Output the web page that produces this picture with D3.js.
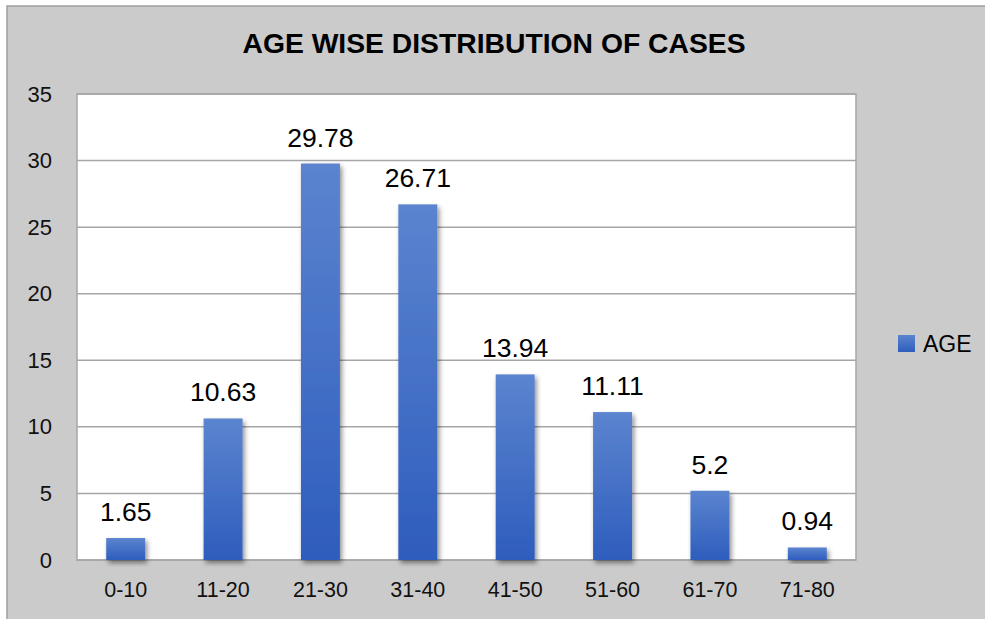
<!DOCTYPE html>
<html><head><meta charset="utf-8">
<script src="https://cdn.jsdelivr.net/npm/d3@7"></script>
<style>body{margin:0;background:#fff}svg{display:block}</style>
</head><body>
<script>
const categories = ["0-10","11-20","21-30","31-40","41-50","51-60","61-70","71-80"];
const values = [1.65,10.63,29.78,26.71,13.94,11.11,5.2,0.94];
const labels = ["1.65","10.63","29.78","26.71","13.94","11.11","5.2","0.94"];
const yTicks = [0,5,10,15,20,25,30,35];
const seriesName = "AGE";
const title = "AGE WISE DISTRIBUTION OF CASES";

const W=985,H=619;
const svg=d3.select("body").append("svg").attr("width",W).attr("height",H);
const defs=svg.append("defs");
const g=defs.append("linearGradient").attr("id","bg").attr("x1",0).attr("y1",0).attr("x2",0).attr("y2",1);
g.append("stop").attr("offset","0%").attr("stop-color","#5b84cf");
g.append("stop").attr("offset","100%").attr("stop-color","#2e5dbd");
const f=defs.append("filter").attr("id","sh").attr("x","-30%").attr("y","-30%").attr("width","160%").attr("height","160%");
f.append("feDropShadow").attr("dx",2).attr("dy",3).attr("stdDeviation",2.5).attr("flood-color","#000").attr("flood-opacity",0.45);

svg.append("rect").attr("width",W).attr("height",H).attr("fill","#fff");
svg.append("rect").attr("x",7).attr("y",6).attr("width",W+20).attr("height",H+20).attr("fill","#cbcbcb").attr("stroke","#a0a0a0").attr("stroke-width",1.5);

const L=77,R=856,T=94,B=560;
svg.append("rect").attr("x",L).attr("y",T).attr("width",R-L).attr("height",B-T).attr("fill","#fff").attr("stroke","#a6a6a6").attr("stroke-width",1.5);

const x=d3.scaleBand().domain(categories).range([L,R]).paddingInner(0.6).paddingOuter(0.3);
const y=d3.scaleLinear().domain([0,35]).range([B,T]);

svg.append("g").selectAll("line").data(yTicks).join("line")
  .attr("x1",L).attr("x2",R).attr("y1",d=>y(d)).attr("y2",d=>y(d))
  .attr("stroke","#a6a6a6").attr("stroke-width",1.5);

const yAxis=svg.append("g").attr("transform",`translate(${L},0)`).call(d3.axisLeft(y).tickValues(yTicks).tickSize(0).tickPadding(25));
yAxis.select(".domain").remove();
yAxis.selectAll("text").attr("font-family","Liberation Sans, Arial, sans-serif").attr("font-size",22).attr("fill","#111");

const xAxis=svg.append("g").attr("transform",`translate(0,${B})`).call(d3.axisBottom(x).tickSize(0).tickPadding(22));
xAxis.select(".domain").remove();
xAxis.selectAll("text").attr("font-family","Liberation Sans, Arial, sans-serif").attr("font-size",21.5).attr("fill","#111");

svg.append("g").selectAll("rect").data(values).join("rect")
  .attr("x",(d,i)=>x(categories[i])).attr("width",x.bandwidth())
  .attr("y",d=>y(d)).attr("height",d=>B-y(d))
  .attr("fill","url(#bg)").attr("filter","url(#sh)");

svg.append("g").selectAll("text").data(values).join("text")
  .attr("x",(d,i)=>x(categories[i])+x.bandwidth()/2).attr("y",d=>y(d)-17)
  .attr("text-anchor","middle").attr("font-family","Liberation Sans, Arial, sans-serif").attr("font-size",26.5).attr("fill","#000")
  .text((d,i)=>labels[i]);

svg.append("text").attr("x",494).attr("y",53).attr("text-anchor","middle")
  .attr("font-family","Liberation Sans, Arial, sans-serif").attr("font-weight","bold").attr("font-size",28.3).attr("fill","#000").text(title);

svg.append("rect").attr("x",898).attr("y",335).attr("width",17).attr("height",17).attr("fill","url(#bg)");
svg.append("text").attr("x",923).attr("y",352).attr("font-family","Liberation Sans, Arial, sans-serif").attr("font-size",23).attr("fill","#000").text(seriesName);
</script>
</body></html>
